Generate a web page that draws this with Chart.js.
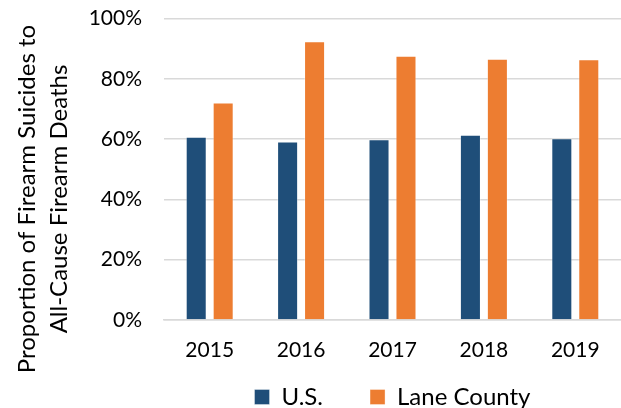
<!DOCTYPE html>
<html>
<head>
<meta charset="utf-8">
<script src="https://cdn.jsdelivr.net/npm/chart.js@4.4.0/dist/chart.umd.min.js"></script>
<style>
  html, body { margin: 0; padding: 0; background: #fff; }
  #wrap { width: 621px; height: 408px; }
</style>
</head>
<body>
<div id="wrap"><canvas id="chart" width="621" height="408"></canvas></div>
<script>
// Chart data
const years = ['2015', '2016', '2017', '2018', '2019'];
const usValues = [60.8, 59.2, 60.0, 61.5, 60.3];
const laneValues = [72.2, 92.5, 87.7, 86.7, 86.5];
const yTicks = [0, 20, 40, 60, 80, 100];
const yTitleLines = ['Proportion of Firearm Suicides to', 'All-Cause Firearm Deaths'];

const FONT = 'Lato, "Open Sans", sans-serif';
const gridGray = '#d9d9d9';

// Two-line rotated axis title, centred a bit below the plot middle like the original
const yTitlePlugin = {
  id: 'yTitle',
  afterDraw(chart) {
    const c = chart.ctx;
    c.save();
    c.font = `24px ${FONT}`;
    c.fillStyle = '#000';
    c.textAlign = 'center';
    c.textBaseline = 'middle';
    const xs = [27, 59];
    yTitleLines.forEach((line, i) => {
      c.save();
      c.translate(xs[i], 199);
      c.rotate(-Math.PI / 2);
      c.fillText(line, 0, 0);
      c.restore();
    });
    c.restore();
  }
};

const ctx = document.getElementById('chart').getContext('2d');

new Chart(ctx, {
  type: 'bar',
  data: {
    labels: years,
    datasets: [
      {
        label: 'U.S.',
        data: usValues,
        backgroundColor: '#1f4e79',
        borderColor: 'rgba(255,255,255,0.35)',
        borderWidth: 1
      },
      {
        label: 'Lane County',
        data: laneValues,
        backgroundColor: '#ed7d31',
        borderColor: 'rgba(255,255,255,0.35)',
        borderWidth: 1
      }
    ]
  },
  plugins: [yTitlePlugin],
  options: {
    responsive: false,
    animation: false,
    layout: { padding: { top: 0, right: 0, left: 0, bottom: -11 } },
    datasets: {
      bar: { categoryPercentage: 0.59, barPercentage: 0.78 }
    },
    plugins: {
      tooltip: { enabled: false },
      legend: {
        position: 'bottom',
        fullSize: false,
        labels: {
          font: { family: FONT, size: 24 },
          color: '#000',
          boxWidth: 15,
          boxHeight: 15,
          padding: 4,
          // widen the gap between the two entries
          generateLabels: (chart) => {
            const items = Chart.defaults.plugins.legend.labels.generateLabels(chart);
            items[0].text = items[0].text + '\u00a0'.repeat(7);
            return items;
          }
        }
      }
    },
    scales: {
      x: {
        afterFit: (scale) => { scale.height = 61; },
        grid: { display: false, drawTicks: false },
        border: { color: gridGray, width: 1.5 },
        ticks: {
          font: { family: FONT, size: 21 },
          color: '#000',
          padding: 18
        }
      },
      y: {
        min: 0,
        max: 100,
        afterBuildTicks: (scale) => {
          scale.ticks = yTicks.map(v => ({ value: v }));
        },
        afterFit: (scale) => { scale.width = 164; },
        grid: { color: gridGray, lineWidth: 1.5, drawTicks: true, tickLength: 16, tickColor: 'rgba(0,0,0,0)' },
        border: { display: false },
        ticks: {
          font: { family: FONT, size: 21 },
          color: '#000',
          padding: 6,
          callback: (val) => `${val}%`
        }
      }
    }
  }
});
</script>
</body>
</html>
